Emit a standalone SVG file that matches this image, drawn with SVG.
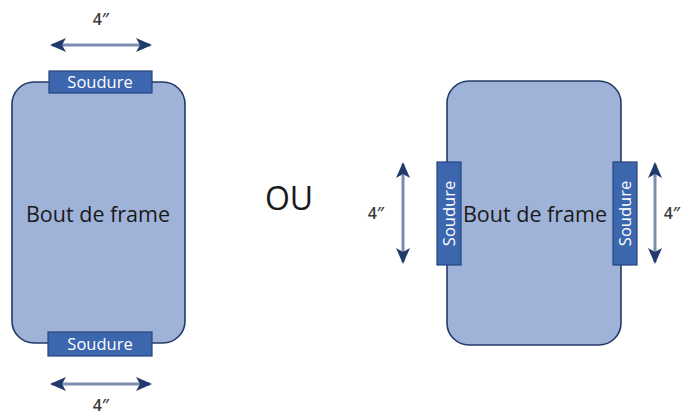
<svg xmlns="http://www.w3.org/2000/svg" width="682" height="416" viewBox="0 0 682 416">
<defs>
<style>
.frame{fill:#9fb3d8;stroke:#243a68;stroke-width:1.6}
.weld{fill:#3c66ad;stroke:#24437f;stroke-width:1.2}
.wt{font-family:"Open Sans",sans-serif;font-size:16.5px;fill:#ffffff;text-anchor:middle}
.lbl{font-family:"Open Sans",sans-serif;font-size:21.5px;fill:#1a1a1a;text-anchor:middle}
.dim{font-family:"Open Sans",sans-serif;font-size:16px;font-weight:600;fill:#3a3a3a;text-anchor:middle}
.ou{font-family:"Open Sans",sans-serif;font-size:32px;fill:#1a1a1a;text-anchor:middle}
.shaft{stroke:#7d8db0;stroke-width:3;fill:none}
.head{fill:#213a6b}
</style>
<marker id="ah" viewBox="0 0 16 14" refX="14" refY="7" markerWidth="16" markerHeight="14" markerUnits="userSpaceOnUse" orient="auto-start-reverse">
<path class="head" d="M0,0 L16,7 L0,14 L4,7 Z"/>
</marker>
</defs>
<g id="frame-left">
<rect class="frame" x="12" y="82" width="173" height="261" rx="22"/>
<text class="lbl" x="98" y="222">Bout de frame</text>
</g>
<g id="weld-top">
<rect class="weld" x="49" y="71" width="103" height="22"/>
<text class="wt" x="100" y="88">Soudure</text>
</g>
<g id="weld-bottom">
<rect class="weld" x="48" y="332" width="104" height="24"/>
<text class="wt" x="100" y="350">Soudure</text>
</g>
<g id="ou">
<text class="ou" x="289" y="210">OU</text>
</g>
<g id="frame-right">
<rect class="frame" x="447" y="81" width="174" height="264" rx="22"/>
<text class="lbl" x="535" y="222">Bout de frame</text>
</g>
<g id="weld-left">
<rect class="weld" x="437" y="162" width="24" height="103"/>
<text class="wt" transform="translate(455,213.5) rotate(-90)" x="0" y="0">Soudure</text>
</g>
<g id="weld-right">
<rect class="weld" x="613" y="162" width="24" height="103"/>
<text class="wt" transform="translate(631,213.5) rotate(-90)" x="0" y="0">Soudure</text>
</g>
<g id="connectors">
<line class="shaft" x1="52" y1="45" x2="150" y2="45" marker-start="url(#ah)" marker-end="url(#ah)"/>
<line class="shaft" x1="52" y1="384" x2="150" y2="384" marker-start="url(#ah)" marker-end="url(#ah)"/>
<line class="shaft" x1="403" y1="164" x2="403" y2="262" marker-start="url(#ah)" marker-end="url(#ah)"/>
<line class="shaft" x1="655" y1="164" x2="655" y2="262" marker-start="url(#ah)" marker-end="url(#ah)"/>
</g>
<g id="dims">
<text class="dim" x="101" y="25">4″</text>
<text class="dim" x="101" y="411">4″</text>
<text class="dim" x="376" y="219">4″</text>
<text class="dim" x="672" y="219">4″</text>
</g>
</svg>
